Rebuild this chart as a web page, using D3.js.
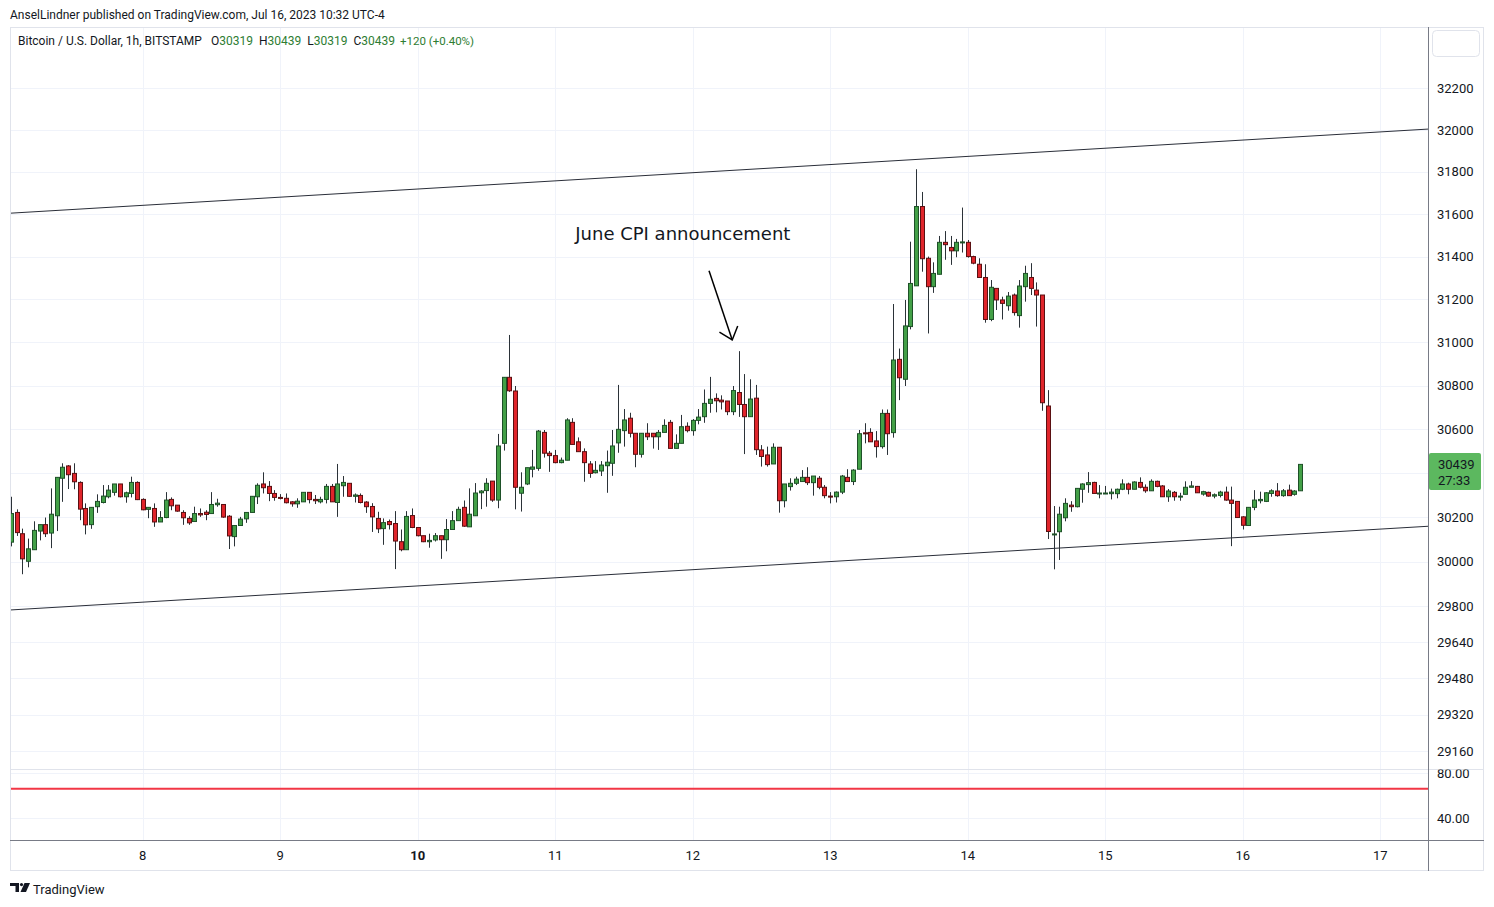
<!DOCTYPE html>
<html>
<head>
<meta charset="utf-8">
<script src="https://cdn.jsdelivr.net/npm/d3@7"></script>
<style>
  html, body { margin: 0; padding: 0; background: #ffffff; }
  svg { display: block; }
</style>
</head>
<body>
<svg id="chart" width="1494" height="907" font-family="Roboto, 'Noto Sans', sans-serif"></svg>
<script>
// ---------------- DATA ----------------
const symbolTitle = "Bitcoin / U.S. Dollar, 1h, BITSTAMP";
const publishedNote = "AnselLindner published on TradingView.com, Jul 16, 2023 10:32 UTC-4";
const headerOHLC = [["O", "30319"], ["H", "30439"], ["L", "30319"], ["C", "30439"]];
const headerChange = "+120 (+0.40%)";
const firstCandleHourUTC = Date.UTC(2023, 6, 7, 1); // Jul 7 01:00, hourly bars

const opens = [30087,30221,30125,30001,30053,30137,30166,30128,30206,30376,30432,30398,30357,30239,30166,30247,30266,30292,30312,30350,30292,30307,30357,30280,30235,30239,30178,30198,30280,30254,30221,30194,30180,30216,30222,30216,30256,30257,30204,30112,30162,30192,30221,30292,30350,30339,30307,30289,30285,30269,30260,30269,30312,30280,30269,30280,30339,30266,30342,30353,30294,30298,30268,30248,30194,30148,30180,30171,30089,30053,30207,30153,30116,30089,30097,30116,30098,30144,30184,30244,30156,30206,30310,30320,30363,30277,30535,30838,30775,30308,30350,30417,30421,30585,30490,30479,30447,30458,30631,30542,30497,30441,30401,30409,30433,30444,30537,30593,30650,30581,30485,30581,30581,30565,30585,30631,30512,30535,30613,30593,30640,30657,30718,30741,30733,30729,30680,30768,30713,30657,30742,30505,30482,30441,30517,30274,30338,30353,30361,30380,30356,30376,30335,30295,30292,30313,30380,30361,30417,30583,30585,30546,30520,30672,30584,30921,30829,31073,31263,31636,31392,31259,31317,31467,31443,31427,31465,31467,31400,31364,31302,31106,31251,31197,31170,31220,31124,31259,31302,31243,31220,30706,30121,30134,30197,30254,30247,30326,30347,30357,30306,30307,30306,30306,30326,30350,30326,30357,30335,30319,30362,30341,30292,30312,30292,30303,30335,30339,30304,30312,30295,30298,30313,30277,30271,30201,30162,30244,30274,30271,30307,30318,30297,30322,30303,30319];
const highs = [30292,30235,30148,30103,30181,30166,30198,30330,30380,30444,30436,30444,30362,30262,30244,30303,30345,30345,30350,30350,30315,30383,30362,30285,30244,30262,30227,30313,30289,30254,30231,30204,30247,30239,30231,30313,30283,30257,30209,30162,30201,30221,30294,30353,30403,30363,30322,30304,30307,30272,30285,30312,30312,30300,30292,30350,30350,30441,30386,30353,30307,30307,30272,30263,30224,30194,30189,30227,30144,30227,30239,30153,30116,30125,30128,30116,30191,30227,30247,30275,30330,30354,30322,30376,30363,30578,30838,31034,30798,30403,30424,30505,30596,30596,30500,30505,30470,30650,30650,30562,30512,30454,30454,30454,30502,30596,30803,30692,30675,30581,30581,30627,30581,30596,30645,30642,30576,30665,30631,30646,30692,30782,30840,30764,30755,30729,30798,30959,30853,30829,30803,30527,30520,30535,30517,30350,30376,30383,30413,30426,30386,30386,30345,30313,30316,30391,30417,30417,30596,30627,30604,30591,30690,30690,31178,30971,31197,31470,31813,31705,31400,31373,31497,31520,31497,31483,31631,31478,31404,31392,31364,31290,31251,31212,31234,31227,31290,31357,31369,31279,31220,30779,30250,30247,30285,30272,30330,30353,30404,30360,30345,30341,30329,30329,30371,30356,30362,30380,30348,30371,30365,30345,30327,30318,30310,30362,30363,30341,30319,30315,30307,30319,30338,30338,30271,30204,30244,30322,30315,30313,30326,30354,30327,30347,30322,30439];
const lows = [30068,30115,29943,29974,30053,30095,30110,30060,30137,30269,30327,30326,30186,30122,30147,30219,30262,30285,30297,30289,30265,30289,30277,30231,30195,30156,30178,30195,30231,30224,30165,30165,30178,30201,30186,30216,30247,30197,30056,30068,30162,30174,30221,30259,30307,30272,30274,30280,30262,30247,30242,30269,30262,30259,30262,30262,30269,30201,30292,30292,30266,30262,30219,30133,30128,30075,30144,29966,30046,30053,30150,30113,30087,30062,30090,30012,30046,30144,30184,30156,30156,30206,30236,30247,30269,30240,30502,30771,30235,30225,30345,30380,30410,30470,30405,30444,30444,30458,30530,30497,30360,30378,30398,30386,30310,30387,30492,30520,30562,30426,30470,30550,30511,30505,30585,30512,30512,30535,30585,30570,30622,30629,30675,30677,30690,30664,30664,30656,30486,30657,30482,30429,30429,30441,30220,30244,30320,30345,30361,30345,30297,30326,30285,30262,30266,30304,30361,30345,30417,30535,30542,30470,30511,30482,30561,30733,30798,31060,31263,31329,31041,31230,31317,31385,31361,31397,31419,31395,31364,31302,31091,31098,31150,31106,31147,31124,31068,31189,31220,31073,30684,30101,29965,30007,30181,30224,30244,30265,30310,30307,30285,30304,30280,30285,30322,30303,30326,30330,30310,30319,30335,30292,30269,30274,30274,30303,30335,30310,30297,30292,30285,30289,30274,30069,30198,30144,30162,30231,30262,30268,30292,30292,30292,30297,30297,30319];
const closes = [30216,30130,30012,30057,30140,30166,30125,30213,30380,30426,30392,30360,30236,30165,30244,30271,30295,30322,30350,30292,30310,30357,30279,30233,30244,30178,30198,30277,30251,30227,30197,30174,30216,30210,30212,30257,30263,30200,30115,30162,30191,30221,30294,30344,30333,30307,30289,30286,30265,30260,30272,30312,30279,30274,30280,30339,30269,30350,30357,30294,30300,30266,30247,30201,30147,30175,30166,30092,30053,30203,30153,30116,30089,30095,30116,30098,30144,30184,30235,30159,30213,30309,30318,30353,30277,30523,30838,30776,30335,30335,30424,30427,30591,30490,30479,30447,30458,30642,30530,30497,30447,30398,30412,30436,30449,30523,30599,30642,30581,30485,30581,30565,30565,30585,30617,30512,30535,30611,30593,30640,30655,30718,30737,30730,30725,30680,30777,30713,30657,30738,30506,30475,30438,30517,30274,30350,30353,30372,30380,30356,30386,30335,30297,30292,30313,30386,30361,30413,30579,30579,30542,30520,30672,30579,30918,30836,31076,31274,31636,31390,31259,31321,31467,31456,31427,31467,31469,31400,31369,31302,31106,31256,31197,31181,31215,31138,31262,31321,31251,31220,30721,30135,30124,30213,30262,30247,30330,30350,30356,30307,30309,30309,30313,30326,30350,30326,30359,30335,30319,30362,30339,30292,30318,30292,30295,30335,30341,30310,30315,30295,30301,30313,30277,30262,30198,30163,30244,30277,30280,30310,30319,30297,30319,30297,30318,30439];

const priceTicks = [32200, 32000, 31800, 31600, 31400, 31200, 31000, 30800, 30600, 30400, 30200, 30000, 29800, 29640, 29480, 29320, 29160];
const dayTicks = [8, 9, 10, 11, 12, 13, 14, 15, 16, 17];
const boldDays = [10];
const indicatorTicks = [80, 40];
const indicatorLevel = 66.3;
// channel trend lines: [hours from Jul 7 00:00 UTC, price]
const channelUpper = [[0, 31603], [248, 32004]];
const channelLower = [[0, 29782], [248, 30158]];
// annotation
const noteText = "June CPI announcement";
const noteAnchor = [99.5, 31477];              // [hours from Jul 7, price] of text start
const arrowFrom = [122.85, 31333];
const arrowTo = [126.9, 31011];
const lastPrice = 30439;
const countdown = "27:33";

// ---------------- LAYOUT ----------------
const W = 1494, H = 907;
const frame = { left: 10, top: 27, right: 1484, bottom: 871 };
const plotRight = 1428;
const mainBottom = 768.5;
const indTop = 769, indBottom = 840;

const t0 = Date.UTC(2023, 6, 7);
const HOUR = 3600e3;
const x = d3.scaleUtc()
  .domain([new Date(t0), new Date(Date.UTC(2023, 6, 17))])
  .range([5.2, 1380.2]);
const y = d3.scaleLog().domain([29087.6, 32497]).range([768, 27]);
const yInd = d3.scaleLinear().domain([40, 80]).range([818.3, 773.3]);

const svg = d3.select("#chart");

const defs = svg.append("defs");
defs.append("clipPath").attr("id", "mainClip")
  .append("rect").attr("x", frame.left).attr("y", frame.top)
  .attr("width", plotRight - frame.left).attr("height", mainBottom - frame.top);
defs.append("clipPath").attr("id", "indClip")
  .append("rect").attr("x", frame.left).attr("y", indTop)
  .attr("width", plotRight - frame.left).attr("height", indBottom - indTop);
defs.append("clipPath").attr("id", "indAxisClip")
  .append("rect").attr("x", plotRight).attr("y", indTop + 0.5)
  .attr("width", frame.right - plotRight).attr("height", indBottom - indTop);

// background
svg.append("rect").attr("width", W).attr("height", H).attr("fill", "#ffffff");

// ---------------- GRID ----------------
const grid = svg.append("g");
grid.selectAll("line.h").data(priceTicks).join("line")
  .attr("x1", frame.left).attr("x2", plotRight)
  .attr("y1", d => Math.round(y(d)) + 0.5).attr("y2", d => Math.round(y(d)) + 0.5)
  .attr("stroke", "#f0f3fa").attr("stroke-width", 1);
grid.selectAll("line.hi").data(indicatorTicks).join("line")
  .attr("x1", frame.left).attr("x2", plotRight)
  .attr("y1", d => Math.round(yInd(d)) + 0.5).attr("y2", d => Math.round(yInd(d)) + 0.5)
  .attr("stroke", "#f0f3fa").attr("stroke-width", 1);
grid.selectAll("line.v").data(dayTicks).join("line")
  .attr("x1", d => Math.round(x(new Date(Date.UTC(2023, 6, d)))) + 0.5)
  .attr("x2", d => Math.round(x(new Date(Date.UTC(2023, 6, d)))) + 0.5)
  .attr("y1", frame.top).attr("y2", indBottom)
  .attr("stroke", "#f0f3fa").attr("stroke-width", 1);

// ---------------- MAIN PANE ----------------
const main = svg.append("g").attr("clip-path", "url(#mainClip)");

function trend(points) {
  return points.map(p => [x(new Date(t0 + p[0] * HOUR)), y(p[1])]);
}
[channelUpper, channelLower].forEach(ch => {
  const pts = trend(ch);
  const slope = (pts[1][1] - pts[0][1]) / (pts[1][0] - pts[0][0]);
  const xa = frame.left, xb = plotRight;
  main.append("line")
    .attr("x1", xa).attr("y1", pts[0][1] + slope * (xa - pts[0][0]))
    .attr("x2", xb).attr("y2", pts[0][1] + slope * (xb - pts[0][0]))
    .attr("stroke", "#2a2e39").attr("stroke-width", 1);
});

const candles = opens.map((o, i) => ({
  t: new Date(firstCandleHourUTC + i * HOUR),
  o, h: highs[i], l: lows[i], c: closes[i]
}));

const upFill = "#43a047", upStroke = "#1e5128";
const dnFill = "#e0252b", dnStroke = "#5a1012";
const wickColor = "#2b3238";

const cg = main.append("g");
cg.selectAll("line.wick").data(candles).join("line")
  .attr("x1", d => Math.round(x(d.t)) + 0.5).attr("x2", d => Math.round(x(d.t)) + 0.5)
  .attr("y1", d => y(d.h)).attr("y2", d => y(d.l))
  .attr("stroke", wickColor).attr("stroke-width", 1);
cg.selectAll("rect.body").data(candles).join("rect")
  .attr("x", d => Math.round(x(d.t)) - 1.5)
  .attr("y", d => Math.min(y(d.o), y(d.c)))
  .attr("width", 4)
  .attr("height", d => Math.max(1, Math.abs(y(d.o) - y(d.c))))
  .attr("fill", d => d.c >= d.o ? upFill : dnFill)
  .attr("stroke", d => d.c >= d.o ? upStroke : dnStroke)
  .attr("stroke-width", 1);

// annotation
const ax1 = x(new Date(t0 + arrowFrom[0] * HOUR)), ay1 = y(arrowFrom[1]);
const ax2 = x(new Date(t0 + arrowTo[0] * HOUR)), ay2 = y(arrowTo[1]);
main.append("line").attr("x1", ax1).attr("y1", ay1).attr("x2", ax2).attr("y2", ay2)
  .attr("stroke", "#000").attr("stroke-width", 1.5);
{
  const dx = ax1 - ax2, dy = ay1 - ay2, len = Math.hypot(dx, dy);
  const ux = dx / len, uy = dy / len, L = 15, a = 40 * Math.PI / 180;
  const w1 = [ax2 + L * (ux * Math.cos(a) - uy * Math.sin(a)), ay2 + L * (ux * Math.sin(a) + uy * Math.cos(a))];
  const w2 = [ax2 + L * (ux * Math.cos(-a) - uy * Math.sin(-a)), ay2 + L * (ux * Math.sin(-a) + uy * Math.cos(-a))];
  main.append("path")
    .attr("d", `M${w1[0]},${w1[1]}L${ax2},${ay2}L${w2[0]},${w2[1]}`)
    .attr("fill", "none").attr("stroke", "#000").attr("stroke-width", 1.5);
}
main.append("text")
  .attr("x", x(new Date(t0 + noteAnchor[0] * HOUR))).attr("y", y(noteAnchor[1]))
  .style("font-family", "'DejaVu Sans', sans-serif").attr("font-size", 18).attr("fill", "#131722")
  .text(noteText);

// ---------------- INDICATOR PANE ----------------
const ind = svg.append("g").attr("clip-path", "url(#indClip)");
ind.append("line").attr("x1", frame.left).attr("x2", plotRight)
  .attr("y1", yInd(indicatorLevel)).attr("y2", yInd(indicatorLevel))
  .attr("stroke", "#f23645").attr("stroke-width", 2);

// ---------------- FRAME / SEPARATORS ----------------
svg.append("rect").attr("x", frame.left + 0.5).attr("y", frame.top + 0.5)
  .attr("width", frame.right - frame.left - 1).attr("height", frame.bottom - frame.top - 1)
  .attr("fill", "none").attr("stroke", "#e0e3eb");
svg.append("line").attr("x1", frame.left).attr("x2", frame.right)
  .attr("y1", indTop + 0.5).attr("y2", indTop + 0.5).attr("stroke", "#e0e3eb");
svg.append("line").attr("x1", frame.left).attr("x2", frame.right)
  .attr("y1", indBottom + 0.5).attr("y2", indBottom + 0.5).attr("stroke", "#787b86");
svg.append("line").attr("x1", plotRight + 0.5).attr("x2", plotRight + 0.5)
  .attr("y1", frame.top).attr("y2", frame.bottom).attr("stroke", "#787b86");

// ---------------- PRICE AXIS ----------------
const ly = y(lastPrice);
const boxTop = ly - 11.5, boxH = 37;
// labels hidden behind the last-price label are not drawn (as on the reference)
const visibleTicks = priceTicks.filter(d => y(d) < boxTop - 6 || y(d) > boxTop + boxH + 6);
const pax = svg.append("g");
pax.selectAll("text").data(visibleTicks).join("text")
  .attr("x", 1437).attr("y", d => y(d) + 4.5)
  .attr("font-size", 13).attr("fill", "#131722")
  .text(d => d);
const iax = svg.append("g").attr("clip-path", "url(#indAxisClip)");
iax.selectAll("text").data(indicatorTicks).join("text")
  .attr("x", 1437).attr("y", d => yInd(d) + 4.5)
  .attr("font-size", 13).attr("fill", "#131722")
  .text(d => d.toFixed(2));

// top-right empty button
svg.append("rect").attr("x", 1432.5).attr("y", 30.5).attr("width", 47).attr("height", 26)
  .attr("rx", 4).attr("fill", "#fff").attr("stroke", "#e0e3eb");

// last price label
svg.append("rect").attr("x", 1429).attr("y", boxTop).attr("width", 52).attr("height", boxH)
  .attr("rx", 2).attr("fill", "#5cb85f");
svg.append("text").attr("x", 1438).attr("y", ly + 4.5).attr("font-size", 13)
  .attr("fill", "#131722").text(lastPrice);
svg.append("text").attr("x", 1438).attr("y", ly + 20.5).attr("font-size", 13)
  .attr("fill", "#131722").text(countdown);

// ---------------- TIME AXIS ----------------
svg.append("g").selectAll("text").data(dayTicks).join("text")
  .attr("x", d => x(new Date(Date.UTC(2023, 6, d))))
  .attr("y", 860)
  .attr("text-anchor", "middle").attr("font-size", 13)
  .attr("font-weight", d => boldDays.includes(d) ? "bold" : "normal")
  .attr("fill", "#131722")
  .text(d => d);

// ---------------- HEADERS ----------------
svg.append("text").attr("x", 10).attr("y", 19).attr("font-size", 12)
  .attr("fill", "#131722").text(publishedNote);

const hdr = svg.append("text").attr("x", 18).attr("y", 45).attr("font-size", 12).attr("fill", "#131722");
hdr.append("tspan").text(symbolTitle);
headerOHLC.forEach((kv, k) => {
  hdr.append("tspan").attr("dx", k === 0 ? 9 : 6).attr("fill", "#131722").text(kv[0]);
  hdr.append("tspan").attr("fill", "#2e7d32").text(kv[1]);
});
hdr.append("tspan").attr("dx", 5).attr("fill", "#2e7d32").attr("font-size", 11.5).text(headerChange);

// ---------------- TRADINGVIEW LOGO ----------------
const logo = svg.append("g").attr("transform", "translate(10,883)");
logo.append("path").attr("d", "M0,0H9V9H5.5V3H0Z").attr("fill", "#131722");
logo.append("circle").attr("cx", 11.5).attr("cy", 1.6).attr("r", 1.6).attr("fill", "#131722");
logo.append("path").attr("d", "M14.5,0H20L16,9H10.5Z").attr("fill", "#131722");
svg.append("text").attr("x", 33).attr("y", 894).attr("font-size", 13)
  .attr("fill", "#131722").text("TradingView");
</script>
</body>
</html>
